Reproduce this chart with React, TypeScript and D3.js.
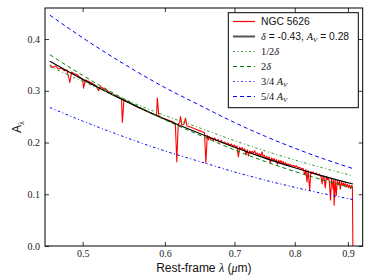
import * as d3 from 'd3';
import { useEffect, useRef } from 'react';

// model curves at these wavelengths (micron)
const modelWave = [0.465, 0.5, 0.55, 0.6, 0.65, 0.7, 0.75, 0.8, 0.85, 0.91];
const bestFit = [0.357, 0.322, 0.28, 0.245, 0.2166, 0.1909, 0.1694, 0.1512, 0.1356, 0.1198];
const halfDelta = [0.347, 0.318, 0.2826, 0.2522, 0.2272, 0.2036, 0.1835, 0.1662, 0.1512, 0.1356];
const doubleDelta = [0.3697, 0.3298, 0.2825, 0.2439, 0.2131, 0.1857, 0.163, 0.144, 0.128, 0.1119];
const threeQuarterAv = [0.2676, 0.2415, 0.2099, 0.1837, 0.1625, 0.1432, 0.127, 0.1134, 0.1017, 0.0898];
const fiveQuarterAv = [0.4461, 0.4025, 0.3498, 0.3062, 0.2708, 0.2386, 0.2117, 0.189, 0.1695, 0.1497];

// NGC 5626 spectrum: [wavelength, A_lambda]
const spectrum: [number, number][] = [
  [0.465, 0.35], [0.468, 0.345], [0.471, 0.348], [0.474, 0.342], [0.477, 0.344], [0.48, 0.339],
  [0.483, 0.34], [0.486, 0.316], [0.488, 0.336], [0.491, 0.333], [0.494, 0.331], [0.497, 0.326],
  [0.5, 0.323], [0.501, 0.305], [0.503, 0.321], [0.507, 0.318], [0.511, 0.314], [0.515, 0.31],
  [0.518, 0.3], [0.52, 0.308], [0.523, 0.305], [0.527, 0.302], [0.531, 0.296], [0.535, 0.293],
  [0.54, 0.289], [0.545, 0.284], [0.546, 0.239], [0.548, 0.283], [0.552, 0.279], [0.556, 0.276],
  [0.56, 0.272], [0.565, 0.268], [0.57, 0.265], [0.575, 0.262], [0.58, 0.258], [0.585, 0.255],
  [0.589, 0.252], [0.59, 0.286], [0.592, 0.251], [0.596, 0.248], [0.6, 0.246], [0.605, 0.243],
  [0.61, 0.24], [0.614, 0.237], [0.616, 0.163], [0.618, 0.236], [0.62, 0.238], [0.621, 0.25],
  [0.623, 0.234], [0.626, 0.236], [0.628, 0.247], [0.63, 0.232], [0.635, 0.23], [0.64, 0.227],
  [0.645, 0.224], [0.65, 0.222], [0.655, 0.219], [0.657, 0.16], [0.659, 0.214], [0.661, 0.205],
  [0.662, 0.212], [0.664, 0.206], [0.666, 0.209], [0.668, 0.204], [0.67, 0.209], [0.672, 0.203],
  [0.675, 0.206], [0.677, 0.201], [0.68, 0.204], [0.682, 0.199], [0.685, 0.201], [0.687, 0.197],
  [0.69, 0.199], [0.692, 0.195], [0.695, 0.197], [0.697, 0.193], [0.7, 0.195], [0.702, 0.191],
  [0.704, 0.193], [0.706, 0.172], [0.708, 0.191], [0.71, 0.187], [0.712, 0.19], [0.714, 0.185],
  [0.716, 0.188], [0.718, 0.176], [0.72, 0.186], [0.722, 0.174], [0.724, 0.184], [0.726, 0.18],
  [0.728, 0.183], [0.73, 0.179], [0.732, 0.184], [0.734, 0.177], [0.736, 0.18], [0.738, 0.175],
  [0.74, 0.178], [0.742, 0.174], [0.744, 0.182], [0.746, 0.173], [0.748, 0.175], [0.75, 0.169],
  [0.752, 0.173], [0.754, 0.168], [0.756, 0.172], [0.758, 0.16], [0.76, 0.17], [0.762, 0.166],
  [0.764, 0.169], [0.766, 0.164], [0.768, 0.167], [0.77, 0.158], [0.772, 0.166], [0.774, 0.161],
  [0.776, 0.165], [0.778, 0.16], [0.78, 0.163], [0.782, 0.157], [0.784, 0.161], [0.786, 0.156],
  [0.788, 0.159], [0.79, 0.155], [0.792, 0.158], [0.795, 0.154], [0.798, 0.156], [0.8, 0.153],
  [0.803, 0.155], [0.806, 0.151], [0.809, 0.152], [0.812, 0.149], [0.815, 0.15], [0.818, 0.138],
  [0.82, 0.148], [0.822, 0.124], [0.824, 0.146], [0.827, 0.108], [0.829, 0.144], [0.831, 0.14],
  [0.833, 0.143], [0.836, 0.139], [0.839, 0.141], [0.842, 0.137], [0.845, 0.139], [0.848, 0.134],
  [0.85, 0.12], [0.852, 0.136], [0.854, 0.13], [0.856, 0.112], [0.858, 0.134], [0.86, 0.128],
  [0.862, 0.132], [0.864, 0.122], [0.866, 0.089], [0.868, 0.13], [0.87, 0.118], [0.871, 0.11],
  [0.872, 0.127], [0.873, 0.079], [0.875, 0.127], [0.877, 0.097], [0.879, 0.126], [0.881, 0.118],
  [0.883, 0.125], [0.885, 0.11], [0.887, 0.124], [0.889, 0.117], [0.891, 0.122], [0.893, 0.116],
  [0.895, 0.121], [0.897, 0.114], [0.899, 0.119], [0.901, 0.113], [0.903, 0.118], [0.905, 0.111],
  [0.907, 0.117], [0.909, 0.115], [0.91, 0.0],
];

const xTicks = [0.5, 0.6, 0.7, 0.8, 0.9];
const yTicks = [0.0, 0.1, 0.2, 0.3, 0.4];

const SERIF = "'Liberation Serif', 'DejaVu Serif', serif";
const SANS = "'Liberation Sans', Arial, sans-serif";

function App() {
  const svgElement = useRef<SVGSVGElement | null>(null);

  useEffect(() => {
    document.body.style.margin = '0';
    if (!svgElement.current) return;

    const svg = d3.select(svgElement.current);
    svg.selectAll('*').remove();

    const left = 45;
    const right = 362.7;
    const top = 8;
    const bottom = 246;

    const x = d3.scaleLog().domain([0.46, 0.93]).range([left, right]);
    const y = d3.scaleLinear().domain([0, 0.46]).range([bottom, top]);

    svg
      .append('clipPath')
      .attr('id', 'plot-clip')
      .append('rect')
      .attr('x', left)
      .attr('y', top)
      .attr('width', right - left)
      .attr('height', bottom - top);

    const plot = svg.append('g').attr('clip-path', 'url(#plot-clip)');

    const specLine = d3
      .line<[number, number]>()
      .x((d) => x(d[0]))
      .y((d) => y(d[1]));

    plot
      .append('path')
      .attr('d', specLine(spectrum) as string)
      .attr('fill', 'none')
      .attr('stroke', '#ff0000')
      .attr('stroke-width', 1.1)
      .attr('stroke-linejoin', 'round');

    const modelLine = d3
      .line<number>()
      .x((d, i) => x(modelWave[i]))
      .y((d) => y(d))
      .curve(d3.curveMonotoneX);

    const models = [
      { values: bestFit, color: '#000000', dash: null, width: 1.2 },
      { values: halfDelta, color: '#2a9a2a', dash: '2.5,2.5,1,2.5', width: 1 },
      { values: doubleDelta, color: '#008000', dash: '4,3', width: 1 },
      { values: threeQuarterAv, color: '#0000ff', dash: '2.5,2.5,1,2.5', width: 1 },
      { values: fiveQuarterAv, color: '#0000ff', dash: '4,3', width: 1 },
    ];

    models.forEach((m) => {
      plot
        .append('path')
        .attr('d', modelLine(m.values) as string)
        .attr('fill', 'none')
        .attr('stroke', m.color)
        .attr('stroke-width', m.width)
        .attr('stroke-dasharray', m.dash);
    });

    // axes, ticks pointing inwards on all four sides
    const xAxis = svg
      .append('g')
      .attr('transform', `translate(0,${bottom})`)
      .call(d3.axisBottom(x).tickValues(xTicks).tickFormat(d3.format('.1f')).tickSize(-4).tickPadding(4));
    const xTop = svg
      .append('g')
      .attr('transform', `translate(0,${top})`)
      .call(d3.axisTop(x).tickValues(xTicks).tickFormat(() => '').tickSize(-4));
    const yAxis = svg
      .append('g')
      .attr('transform', `translate(${left},0)`)
      .call(d3.axisLeft(y).tickValues(yTicks).tickFormat(d3.format('.1f')).tickSize(-4).tickPadding(5));
    const yRight = svg
      .append('g')
      .attr('transform', `translate(${right},0)`)
      .call(d3.axisRight(y).tickValues(yTicks).tickFormat(() => '').tickSize(-4));

    [xAxis, xTop, yAxis, yRight].forEach((g) => {
      g.select('.domain').remove();
      g.selectAll('line').attr('stroke', '#000').attr('stroke-width', 0.8);
      g.selectAll('text').attr('font-family', SERIF).attr('font-size', 10).attr('fill', '#222');
    });

    svg
      .append('rect')
      .attr('x', left)
      .attr('y', top)
      .attr('width', right - left)
      .attr('height', bottom - top)
      .attr('fill', 'none')
      .attr('stroke', '#000')
      .attr('stroke-width', 1);

    // axis labels
    const xLabel = svg
      .append('text')
      .attr('x', (left + right) / 2)
      .attr('y', 271.5)
      .attr('text-anchor', 'middle')
      .attr('font-family', SANS)
      .attr('font-size', 12)
      .attr('fill', '#111');
    xLabel.append('tspan').text('Rest-frame ');
    xLabel.append('tspan').attr('font-family', SERIF).attr('font-style', 'italic').text('λ');
    xLabel.append('tspan').text(' (');
    xLabel.append('tspan').attr('font-family', SERIF).attr('font-style', 'italic').text('μ');
    xLabel.append('tspan').text('m)');

    const yLabel = svg
      .append('text')
      .attr('transform', `translate(21,${(top + bottom) / 2}) rotate(-90)`)
      .attr('text-anchor', 'middle')
      .attr('font-family', SANS)
      .attr('font-size', 12)
      .attr('fill', '#111');
    yLabel.append('tspan').text('A');
    yLabel.append('tspan').attr('font-family', SERIF).attr('font-size', 8).attr('dy', 2.5).text('λ');

    // legend
    const legend = svg.append('g');
    legend
      .append('rect')
      .attr('x', 228.3)
      .attr('y', 12.7)
      .attr('width', 130)
      .attr('height', 95)
      .attr('fill', '#fff')
      .attr('stroke', '#000')
      .attr('stroke-width', 1);

    const legendItems = [
      { color: '#ff0000', dash: null, width: 1.2 },
      { color: '#555555', dash: null, width: 2 },
      { color: '#2a9a2a', dash: '2,2.5,1,2.5', width: 1.2 },
      { color: '#008000', dash: '4,3', width: 1.2 },
      { color: '#3333ff', dash: '2,2.5,1,2.5', width: 1.2 },
      { color: '#0000ff', dash: '4,3', width: 1.2 },
    ];

    legendItems.forEach((item, i) => {
      const cy = 21.5 + i * 15;
      legend
        .append('line')
        .attr('x1', 233)
        .attr('x2', 255)
        .attr('y1', cy)
        .attr('y2', cy)
        .attr('stroke', item.color)
        .attr('stroke-width', item.width)
        .attr('stroke-dasharray', item.dash);
    });

    const label = (i: number) =>
      legend
        .append('text')
        .attr('x', 261)
        .attr('y', 21.5 + i * 15 + 3.5)
        .attr('font-family', SANS)
        .attr('font-size', 10.3)
        .attr('fill', '#111');

    label(0).text('NGC 5626');

    const l1 = label(1);
    l1.append('tspan').attr('font-family', SERIF).attr('font-style', 'italic').text('δ');
    l1.append('tspan').text(' = -0.43, ');
    l1.append('tspan').attr('font-family', SERIF).attr('font-style', 'italic').text('A');
    l1.append('tspan').attr('font-family', SERIF).attr('font-style', 'italic').attr('font-size', 7).attr('dy', 2).text('V');
    l1.append('tspan').attr('dy', -2).text(' = 0.28');

    const l2 = label(2).attr('font-family', SERIF);
    l2.append('tspan').text('1/2');
    l2.append('tspan').attr('font-style', 'italic').text('δ');

    const l3 = label(3).attr('font-family', SERIF);
    l3.append('tspan').text('2');
    l3.append('tspan').attr('font-style', 'italic').text('δ');

    const l4 = label(4).attr('font-family', SERIF);
    l4.append('tspan').text('3/4 ');
    l4.append('tspan').attr('font-style', 'italic').text('A');
    l4.append('tspan').attr('font-style', 'italic').attr('font-size', 7).attr('dy', 2).text('V');

    const l5 = label(5).attr('font-family', SERIF);
    l5.append('tspan').text('5/4 ');
    l5.append('tspan').attr('font-style', 'italic').text('A');
    l5.append('tspan').attr('font-style', 'italic').attr('font-size', 7).attr('dy', 2).text('V');
  }, []);

  return <svg ref={svgElement} width={374} height={280} style={{ display: 'block' }} />;
}

export default App;
